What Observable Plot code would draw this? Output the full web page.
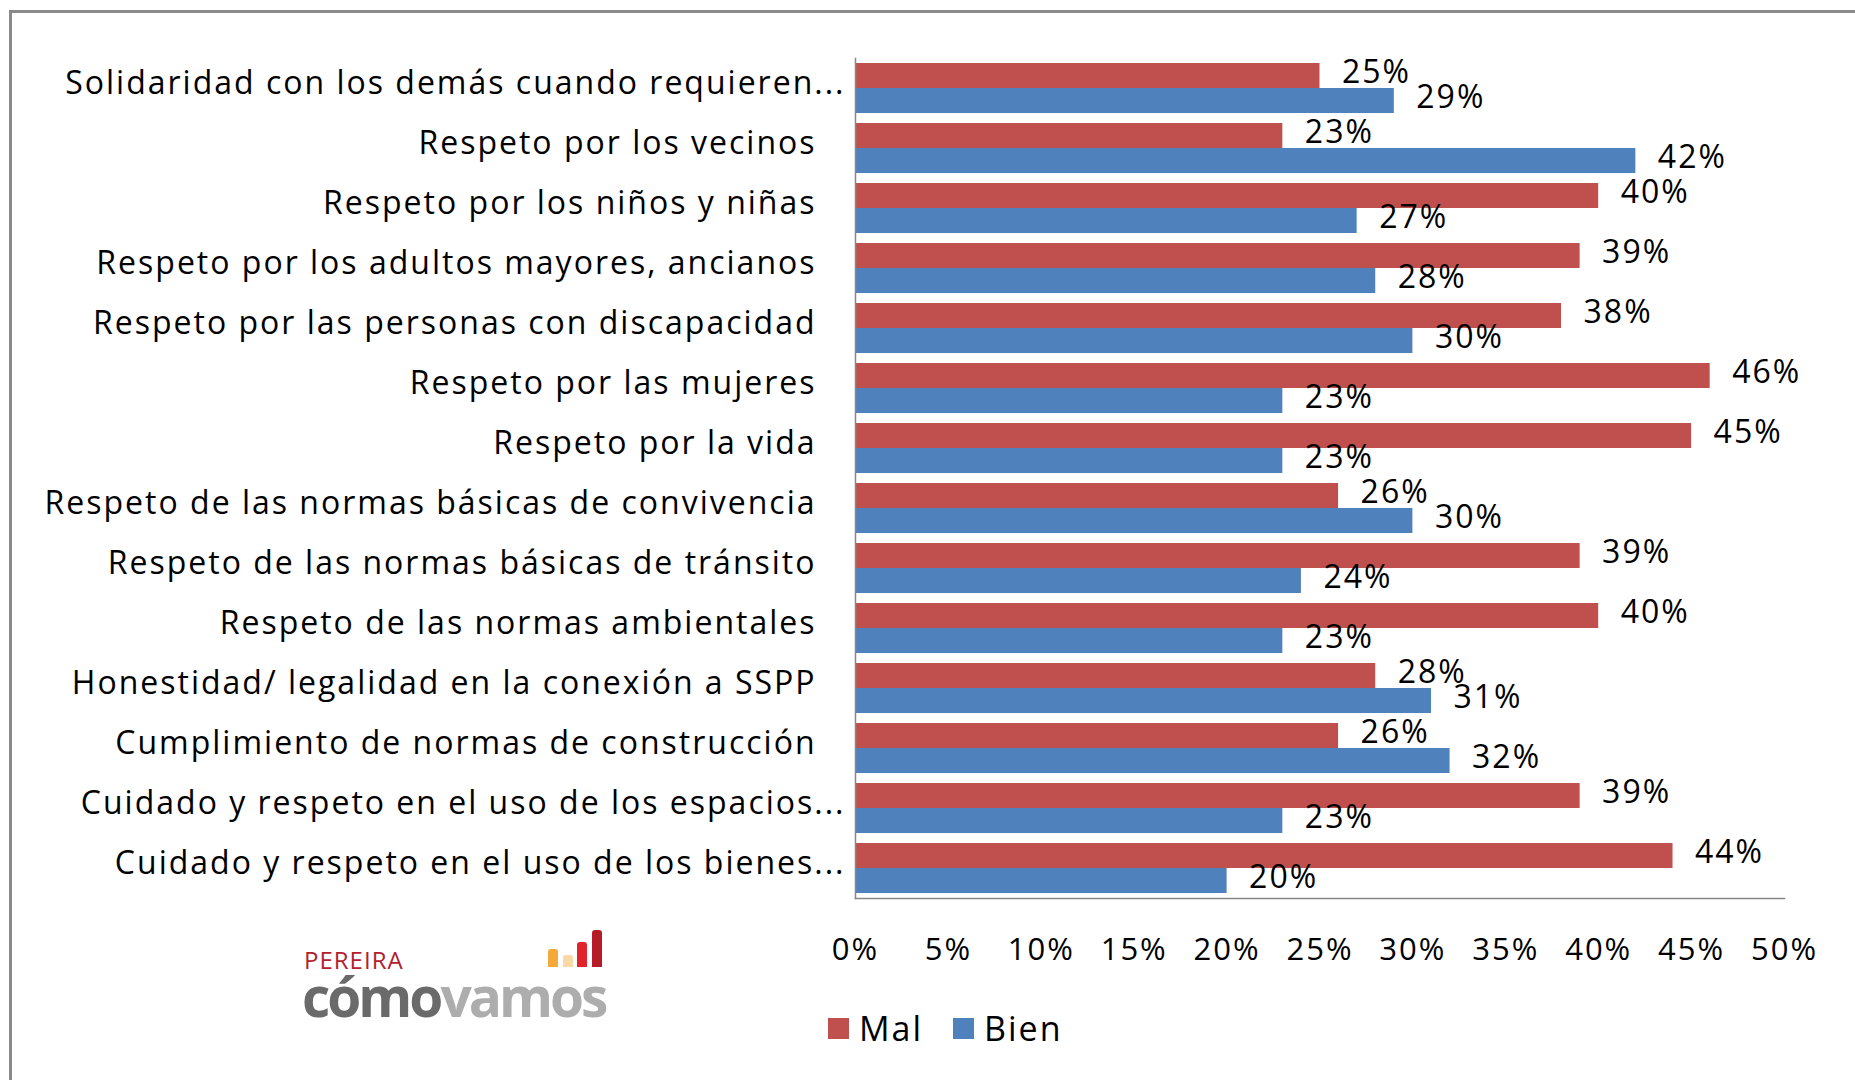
<!DOCTYPE html>
<html>
<head>
<meta charset="utf-8">
<script src="https://cdn.jsdelivr.net/npm/d3@7"></script>
<script src="https://cdn.jsdelivr.net/npm/@observablehq/plot@0.6"></script>
<style>
  html, body { margin: 0; padding: 0; background: #fff; }
  body { width: 1855px; height: 1080px; position: relative; overflow: hidden; font-family: "Open Sans", sans-serif; }
  #frame { position: absolute; left: 9px; top: 10px; width: 1900px; height: 1100px;
           border-top: 3px solid #8a8a8a; border-left: 3px solid #8a8a8a; box-sizing: border-box; }
  #chart { position: absolute; left: 0; top: 0; }
  #legend { position: absolute; left: 828px; top: 1005px; }
  .lg-swatches { font-family: "Open Sans", sans-serif !important; font-size: 34px !important; letter-spacing: 2px; color: #000 !important; }
  .lg-swatch { margin-right: 30px !important; }
  .lg-swatch svg { margin-right: 10px !important; }
  #logo { position: absolute; left: 302px; top: 925px; }
  #pereira { position: absolute; left: 2px; top: 23px; font-family: "Open Sans", sans-serif; font-size: 24px; line-height: 1; color: #b3202d; letter-spacing: 1px; white-space: nowrap; }
  #cv { position: absolute; left: 0; top: 49px; font-family: "Open Sans", sans-serif; font-weight: 700; font-size: 55px; letter-spacing: -3px; white-space: nowrap; line-height: 0.8; }
  #cv .a { color: #6a6a6a; }
  #cv .b { color: #adadad; }
  #icon { position: absolute; left: 246px; top: 5px; height: 37px; display: flex; align-items: flex-end; gap: 4.5px; }
  #icon div { width: 10px; border-radius: 3px 3px 0 0; }
</style>
</head>
<body>
<div id="frame"></div>
<div id="chart"></div>
<div id="legend"></div>
<div id="logo">
  <div id="pereira">PEREIRA</div>
  <div id="cv"><span class="a">cómo</span><span class="b">vamos</span></div>
  <div id="icon">
    <div style="height:18px;background:#f4a93a"></div>
    <div style="height:12px;background:#f9d9a6"></div>
    <div style="height:25px;background:#e1232b"></div>
    <div style="height:37px;background:#b51c26"></div>
  </div>
</div>
<script>
const categories = [
  "Solidaridad con los demás cuando requieren...",
  "Respeto por los vecinos",
  "Respeto por los niños y niñas",
  "Respeto por los adultos mayores, ancianos",
  "Respeto por las personas con discapacidad",
  "Respeto por las mujeres",
  "Respeto por la vida",
  "Respeto de las normas básicas de convivencia",
  "Respeto de las normas básicas de tránsito",
  "Respeto de las normas ambientales",
  "Honestidad/ legalidad en la conexión a SSPP",
  "Cumplimiento de normas de construcción",
  "Cuidado y respeto en el uso de los espacios...",
  "Cuidado y respeto en el uso de los bienes..."
];
const mal  = [25, 23, 40, 39, 38, 46, 45, 26, 39, 40, 28, 26, 39, 44];
const bien = [29, 42, 27, 28, 30, 23, 23, 30, 24, 23, 31, 32, 23, 20];
const seriesNames = ["Mal", "Bien"];
const seriesColors = ["#C0504D", "#4F81BD"];
const xTicks = [0, 5, 10, 15, 20, 25, 30, 35, 40, 45, 50];

const data = categories.flatMap((c, i) => [
  {cat: c, series: "Mal", value: mal[i]},
  {cat: c, series: "Bien", value: bien[i]}
]);
const ellipsisCats = categories.filter(c => c.endsWith("..."));
const normalCats = categories.filter(c => !c.endsWith("..."));

const chart = Plot.plot({
  width: 1855,
  height: 980,
  marginLeft: 855,
  marginRight: 71,
  marginTop: 52,
  marginBottom: 77,
  style: {fontFamily: "Open Sans, sans-serif", fontSize: "31px", color: "#000", background: "transparent", letterSpacing: "2px"},
  x: {domain: [0, 50]},
  y: {domain: seriesNames, paddingOuter: 0.16, paddingInner: 0, axis: null},
  fy: {domain: categories, padding: 0, label: null},
  color: {domain: seriesNames, range: seriesColors},
  marks: [
    Plot.barX(data, {fy: "cat", y: "series", x: "value", fill: "series"}),
    Plot.text(data, {fy: "cat", y: "series", x: "value", text: d => d.value + "%", textAnchor: "start", dx: 22, dy: -3, fill: "#000", fontSize: 32}),
    Plot.frame({anchor: "left", facet: "super", stroke: "#868686", strokeWidth: 1.5}),
    Plot.frame({anchor: "bottom", facet: "super", stroke: "#868686", strokeWidth: 1.5}),
    Plot.axisX({ticks: xTicks, tickFormat: d => d + "%", tickSize: 0, tickPadding: 39, label: null, fontSize: 31}),
    Plot.axisFy({anchor: "left", ticks: normalCats, tickSize: 0, tickPadding: 39, dy: -5, label: null, fontSize: 32}),
    Plot.axisFy({anchor: "left", ticks: ellipsisCats, tickSize: 0, tickPadding: 10, dy: -5, label: null, fontSize: 32})
  ]
});
document.getElementById("chart").appendChild(chart);

const legend = Plot.legend({
  color: {domain: seriesNames, range: seriesColors},
  swatchSize: 21,
  className: "lg"
});
document.getElementById("legend").appendChild(legend);
</script>
</body>
</html>
